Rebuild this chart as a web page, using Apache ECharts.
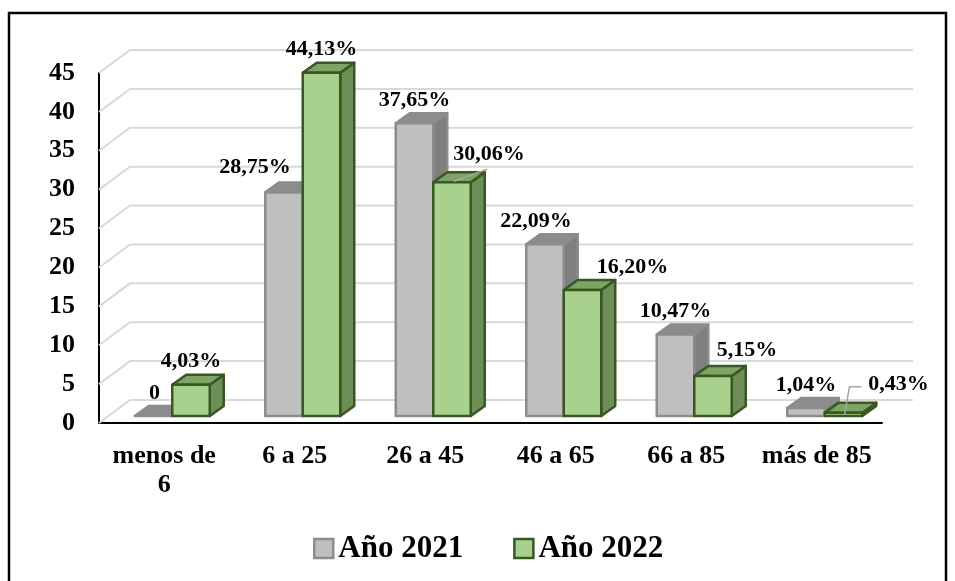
<!DOCTYPE html>
<html>
<head>
<meta charset="utf-8">
<script src="https://cdn.jsdelivr.net/npm/echarts@6/dist/echarts.min.js"></script>
<style>
  html, body { margin: 0; padding: 0; background: #fff; }
  #chart { width: 955px; height: 581px; }
</style>
</head>
<body>
<div id="chart"></div>
<script>
// Age groups and the share of each group per year (%)
const categories = ['menos de\n6', '6 a 25', '26 a 45', '46 a 65', '66 a 85', 'más de 85'];
const seriesNames = ['Año 2021', 'Año 2022'];
const values2021 = [0, 28.75, 37.65, 22.09, 10.47, 1.04];
const values2022 = [4.03, 44.13, 30.06, 16.20, 5.15, 0.43];
const yTicks = [0, 5, 10, 15, 20, 25, 30, 35, 40, 45];

// Label nudges (px) so labels do not collide, and which ones get a leader line
const labelNudge = [
  [[1, 0], [-29, -2], [0, 0], [-9, 0], [0, 0], [0, 0]],
  [[0, 0], [0, 0], [37, -5], [50, 0], [34, -3], [55, -5]]
];
const leader = [
  [false, false, false, false, false, false],
  [false, false, true, false, false, true]
];

const FONT = '"Liberation Serif", "Times New Roman", serif';
const WALL = { dx: 31, dy: -23 };      // depth of the back wall
const BAR = { dx: 14, dy: -10, shiftX: 8, shiftY: -7, width: 37.5 };

const palette = [
  { front: '#bfbfbf', side: '#7f7f7f', top: '#8c8c8c', stroke: '#8c8c8c' },
  { front: '#a9d18e', side: '#6d8f57', top: '#7ea465', stroke: '#385723' }
];

function fmt(v) {
  if (v === 0) return '0';
  return v.toFixed(2).replace('.', ',') + '%';
}

function wallRender(params, api) {
  const cs = params.coordSys;
  const y = api.coord([0, api.value(1)])[1];
  const left = cs.x, right = cs.x + cs.width;
  return {
    type: 'polyline',
    shape: { points: [[left, y], [left + WALL.dx, y + WALL.dy], [right + WALL.dx, y + WALL.dy]] },
    style: { stroke: '#d9d9d9', lineWidth: 2, fill: null },
    silent: true
  };
}

function makeBarRender(s) {
  const col = palette[s];
  return function (params, api) {
    const i = api.value(0);
    const v = api.value(1);
    const c = api.coord([i, v]);
    const base = api.coord([i, 0]);
    const x0 = c[0] + BAR.shiftX + (s - 1) * BAR.width;
    const x1 = x0 + BAR.width;
    const yb = base[1] + BAR.shiftY;
    const yt = c[1] + BAR.shiftY;
    const dx = BAR.dx, dy = BAR.dy;
    const stroke = { stroke: col.stroke, lineWidth: 2.5, lineJoin: 'round' };
    const children = [];
    if (yb - yt > 0.5) {
      children.push({
        type: 'polygon',
        shape: { points: [[x1, yt], [x1 + dx, yt + dy], [x1 + dx, yb + dy], [x1, yb]] },
        style: Object.assign({ fill: col.side }, stroke)
      });
    }
    children.push({
      type: 'polygon',
      shape: { points: [[x0, yt], [x0 + dx, yt + dy], [x1 + dx, yt + dy], [x1, yt]] },
      style: Object.assign({ fill: col.top }, stroke)
    });
    if (yb - yt > 0.5) {
      children.push({
        type: 'rect',
        shape: { x: x0, y: yt, width: BAR.width, height: yb - yt },
        style: Object.assign({ fill: col.front }, stroke)
      });
    }
    const nudge = labelNudge[s][i];
    const lx = (x0 + x1) / 2 + nudge[0];
    const ly = yt - 23 + nudge[1];
    if (leader[s][i]) {
      const bx = (x0 + x1) / 2 + 2;
      let pts;
      if (yb - yt < 8) {
        pts = [[bx - 1, yt + 2], [bx + 4, ly + 2], [lx - 37, ly + 2]];
      } else {
        pts = [[bx, yt - 1], [lx - 2, ly + 15]];
      }
      children.push({
        type: 'polyline',
        shape: { points: pts },
        style: { stroke: '#a6a6a6', lineWidth: 1.5, fill: null }
      });
    }
    children.push({
      type: 'text',
      style: {
        text: fmt(v), x: lx, y: ly,
        align: 'center', verticalAlign: 'middle',
        fill: '#000', font: 'bold 22px ' + FONT
      }
    });
    return { type: 'group', children: children };
  };
}

const chart = echarts.init(document.getElementById('chart'), null, { renderer: 'canvas' });
chart.setOption({
  backgroundColor: '#ffffff',
  animation: false,
  graphic: [{
    type: 'rect',
    shape: { x: 9, y: 13, width: 937, height: 600 },
    style: { fill: null, stroke: '#000', lineWidth: 2.5 },
    z: 100
  }],
  grid: { left: 99, right: 73, top: 73, bottom: 158 },
  xAxis: {
    type: 'category',
    data: categories,
    boundaryGap: true,
    axisLine: { show: true, lineStyle: { color: '#000', width: 2 } },
    axisTick: { show: false },
    axisLabel: {
      interval: 0, margin: 19,
      color: '#000', fontFamily: FONT, fontWeight: 'bold', fontSize: 26, lineHeight: 29
    }
  },
  yAxis: {
    type: 'value',
    min: 0, max: 45, interval: 5,
    axisLine: { show: true, lineStyle: { color: '#000', width: 2 } },
    axisTick: { show: false },
    splitLine: { show: false },
    axisLabel: {
      margin: 24, color: '#000', fontFamily: FONT, fontWeight: 'bold', fontSize: 26
    }
  },
  legend: {
    bottom: 12,
    left: 308,
    itemWidth: 19, itemHeight: 19, itemGap: 50, itemTextGap: 7,
    textStyle: { color: '#000', fontFamily: FONT, fontWeight: 'bold', fontSize: 31 },
    data: seriesNames.map((n, s) => ({
      name: n, icon: 'rect',
      itemStyle: { color: palette[s].front, borderColor: palette[s].stroke, borderWidth: 2.5 }
    }))
  },
  series: [
    {
      type: 'custom', name: 'wall', z: 1, silent: true,
      renderItem: wallRender,
      data: yTicks.map(t => [0, t]),
      encode: { x: 0, y: 1 }
    },
    {
      type: 'custom', name: seriesNames[0], z: 3,
      itemStyle: { color: palette[0].front },
      renderItem: makeBarRender(0),
      data: values2021.map((v, i) => [i, v]),
      encode: { x: 0, y: 1 }
    },
    {
      type: 'custom', name: seriesNames[1], z: 4,
      itemStyle: { color: palette[1].front },
      renderItem: makeBarRender(1),
      data: values2022.map((v, i) => [i, v]),
      encode: { x: 0, y: 1 }
    }
  ]
});
</script>
</body>
</html>
